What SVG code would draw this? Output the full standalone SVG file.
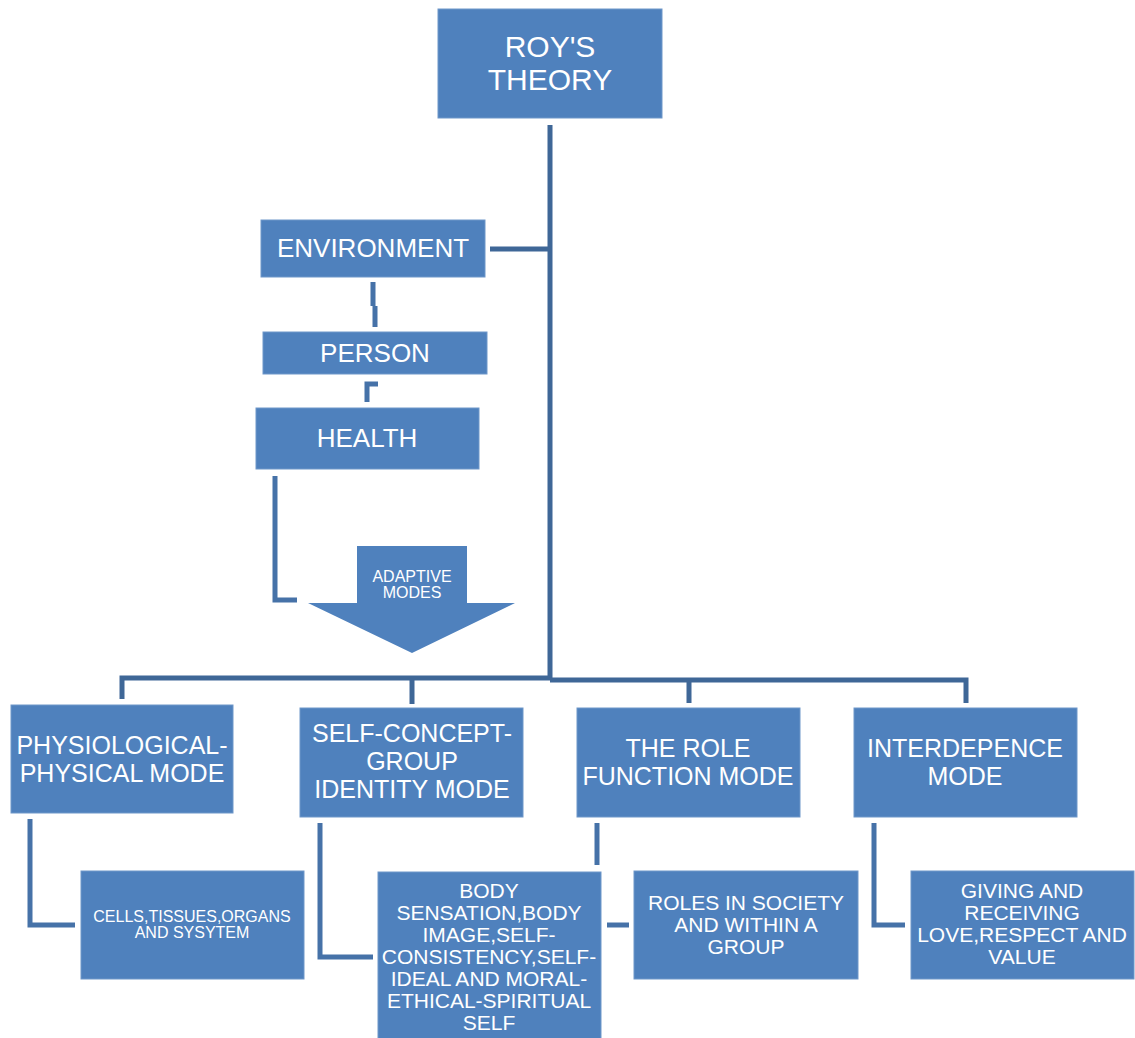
<svg xmlns="http://www.w3.org/2000/svg" width="1135" height="1038" viewBox="0 0 1135 1038">
<style>
.box{fill:#4f81bd;stroke:#6f97c9;stroke-width:1}
.t{font-family:"Liberation Sans",Arial,sans-serif;fill:#ffffff;text-anchor:middle}
.lg{font-size:26px}
.ml{font-size:25px}
.md{font-size:21px}
.sm{font-size:16px}
.main{fill:none;stroke:#3f6797;stroke-width:5}
.sub{fill:none;stroke:#4672a8;stroke-width:5}
</style>
<rect width="1135" height="1038" fill="#ffffff"/>
<g id="connectors">
<path class="main" d="M550,125 V679"/>
<path class="main" d="M490,249 H550"/>
<path class="main" d="M122,699 V678 H550 M412,704 V680 M550,680 H966 V703 M689,703 V680"/>
<path class="sub" d="M373,282 V306 M375,306 V327"/>
<path class="sub" d="M367,402 V384 H378"/>
<path class="sub" d="M275,476 V600 H297"/>
<path class="sub" d="M30,819 V925 H75"/>
<path class="sub" d="M320,823 V957 H373"/>
<path class="sub" d="M597,823 V865"/>
<path class="sub" d="M607,925 H629"/>
<path class="sub" d="M874,823 V925 H905"/>
</g>
<g id="roy">
<rect class="box" x="438" y="9" width="224" height="109"/>
<text class="t" font-size="30" x="550" y="57">ROY'S</text>
<text class="t" font-size="30" x="550" y="90">THEORY</text>
</g>
<g id="environment">
<rect class="box" x="261" y="220" width="224" height="57"/>
<text class="t lg" x="373" y="257">ENVIRONMENT</text>
</g>
<g id="person">
<rect class="box" x="263" y="332" width="224" height="42"/>
<text class="t lg" x="375" y="362">PERSON</text>
</g>
<g id="health">
<rect class="box" x="256" y="408" width="223" height="61"/>
<text class="t lg" x="367" y="447">HEALTH</text>
</g>
<g id="adaptive">
<polygon points="357,546 467,546 467,603 515,603 412,653 308,603 357,603" fill="#4f81bd"/>
<text class="t sm" x="412" y="582">ADAPTIVE</text>
<text class="t sm" x="412" y="598">MODES</text>
</g>
<g id="physiological">
<rect class="box" x="11" y="705" width="222" height="108"/>
<text class="t ml" x="122" y="754">PHYSIOLOGICAL-</text>
<text class="t ml" x="122" y="782">PHYSICAL MODE</text>
</g>
<g id="selfconcept">
<rect class="box" x="300" y="708" width="223" height="109"/>
<text class="t ml" x="412" y="742">SELF-CONCEPT-</text>
<text class="t ml" x="412" y="770">GROUP</text>
<text class="t ml" x="412" y="798">IDENTITY MODE</text>
</g>
<g id="role">
<rect class="box" x="577" y="708" width="223" height="109"/>
<text class="t ml" x="688" y="757">THE ROLE</text>
<text class="t ml" x="688" y="785">FUNCTION MODE</text>
</g>
<g id="interdependence">
<rect class="box" x="854" y="708" width="223" height="109"/>
<text class="t ml" x="965" y="757">INTERDEPENCE</text>
<text class="t ml" x="965" y="785">MODE</text>
</g>
<g id="cells">
<rect class="box" x="81" y="871" width="223" height="108"/>
<text class="t sm" x="192" y="922">CELLS,TISSUES,ORGANS</text>
<text class="t sm" x="192" y="938">AND SYSYTEM</text>
</g>
<g id="body">
<rect class="box" x="378" y="872" width="223" height="170"/>
<text class="t md" x="489" y="898">BODY</text>
<text class="t md" x="489" y="920">SENSATION,BODY</text>
<text class="t md" x="489" y="942">IMAGE,SELF-</text>
<text class="t md" x="489" y="964">CONSISTENCY,SELF-</text>
<text class="t md" x="489" y="986">IDEAL AND MORAL-</text>
<text class="t md" x="489" y="1008">ETHICAL-SPIRITUAL</text>
<text class="t md" x="489" y="1030">SELF</text>
</g>
<g id="roles">
<rect class="box" x="634" y="871" width="224" height="108"/>
<text class="t md" x="746" y="910">ROLES IN SOCIETY</text>
<text class="t md" x="746" y="932">AND WITHIN A</text>
<text class="t md" x="746" y="954">GROUP</text>
</g>
<g id="giving">
<rect class="box" x="911" y="871" width="223" height="108"/>
<text class="t md" x="1022" y="898">GIVING AND</text>
<text class="t md" x="1022" y="920">RECEIVING</text>
<text class="t md" x="1022" y="942">LOVE,RESPECT AND</text>
<text class="t md" x="1022" y="964">VALUE</text>
</g>
</svg>
